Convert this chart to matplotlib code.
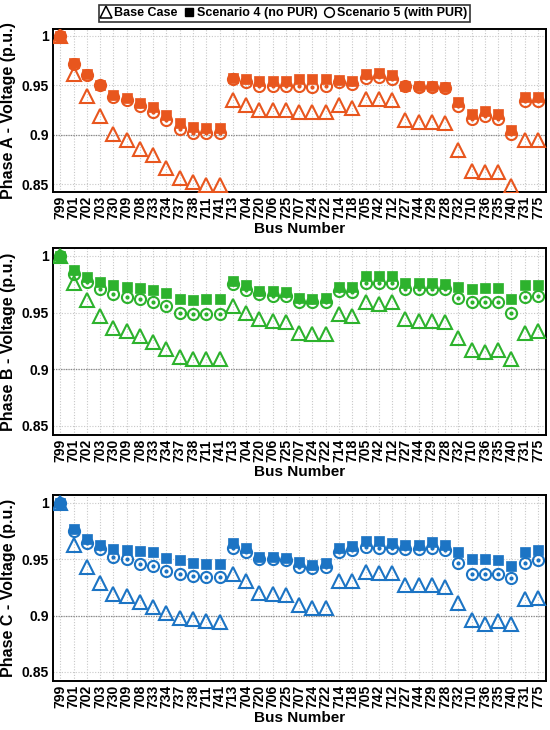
import matplotlib
matplotlib.use("Agg")
import matplotlib.pyplot as plt
from matplotlib.lines import Line2D
import numpy as np

plt.rcParams['font.family'] = ['Liberation Sans', 'DejaVu Sans']
plt.rcParams['font.weight'] = 'bold'

buses = ["799", "701", "702", "703", "730", "709", "708", "733", "734", "737", "738", "711", "741",
         "713", "704", "720", "706", "725", "707", "724", "722", "714", "718", "705", "742", "712",
         "727", "744", "729", "728", "732", "710", "736", "735", "740", "731", "775"]

# Phase A
base_a = [1.0, 0.961, 0.939, 0.919, 0.901, 0.895, 0.886, 0.879, 0.866, 0.856, 0.852, 0.849, 0.849,
          0.935, 0.930, 0.925, 0.925, 0.925, 0.923, 0.923, 0.923, 0.930, 0.927, 0.936, 0.936, 0.935,
          0.915, 0.913, 0.913, 0.912, 0.885, 0.863, 0.862, 0.862, 0.848, 0.895, 0.895]
s4_a = [1.0, 0.973, 0.961, 0.950, 0.940, 0.937, 0.932, 0.928, 0.920, 0.912, 0.908, 0.907, 0.907,
        0.957, 0.956, 0.954, 0.954, 0.954, 0.956, 0.956, 0.956, 0.955, 0.954, 0.961, 0.962, 0.960,
        0.949, 0.949, 0.949, 0.948, 0.933, 0.921, 0.924, 0.921, 0.905, 0.938, 0.938]
s5_a = [1.0, 0.972, 0.960, 0.950, 0.938, 0.935, 0.929, 0.923, 0.915, 0.906, 0.902, 0.902, 0.902,
        0.956, 0.953, 0.949, 0.949, 0.949, 0.949, 0.948, 0.949, 0.953, 0.951, 0.957, 0.958, 0.956,
        0.949, 0.948, 0.948, 0.947, 0.929, 0.916, 0.919, 0.916, 0.901, 0.934, 0.934]

# Phase B
base_b = [1.0, 0.976, 0.961, 0.947, 0.936, 0.934, 0.929, 0.924, 0.918, 0.911, 0.909, 0.909, 0.909,
          0.956, 0.950, 0.944, 0.943, 0.942, 0.932, 0.931, 0.931, 0.949, 0.947, 0.959, 0.958, 0.959,
          0.944, 0.943, 0.943, 0.942, 0.928, 0.917, 0.915, 0.917, 0.909, 0.932, 0.934]
s4_b = [1.0, 0.988, 0.981, 0.977, 0.974, 0.973, 0.972, 0.970, 0.967, 0.962, 0.961, 0.962, 0.962,
        0.978, 0.974, 0.969, 0.969, 0.968, 0.963, 0.962, 0.963, 0.973, 0.973, 0.982, 0.982, 0.982,
        0.976, 0.976, 0.976, 0.975, 0.973, 0.971, 0.972, 0.972, 0.962, 0.974, 0.974]
s5_b = [1.0, 0.984, 0.977, 0.971, 0.966, 0.964, 0.962, 0.959, 0.956, 0.950, 0.949, 0.949, 0.949,
        0.975, 0.970, 0.966, 0.965, 0.965, 0.959, 0.959, 0.959, 0.969, 0.968, 0.976, 0.976, 0.976,
        0.971, 0.971, 0.971, 0.971, 0.963, 0.959, 0.959, 0.959, 0.950, 0.964, 0.965]

# Phase C
base_c = [1.0, 0.963, 0.943, 0.929, 0.919, 0.917, 0.912, 0.908, 0.902, 0.898, 0.897, 0.895, 0.894,
          0.937, 0.931, 0.920, 0.919, 0.918, 0.909, 0.907, 0.907, 0.931, 0.931, 0.939, 0.938, 0.938,
          0.927, 0.927, 0.927, 0.925, 0.911, 0.896, 0.893, 0.895, 0.893, 0.915, 0.916]
s4_c = [1.0, 0.977, 0.968, 0.963, 0.959, 0.958, 0.957, 0.956, 0.951, 0.949, 0.947, 0.946, 0.946,
        0.964, 0.960, 0.952, 0.952, 0.951, 0.948, 0.945, 0.947, 0.960, 0.962, 0.966, 0.966, 0.964,
        0.963, 0.963, 0.965, 0.963, 0.956, 0.950, 0.950, 0.949, 0.944, 0.956, 0.958]
s5_c = [1.0, 0.975, 0.964, 0.959, 0.952, 0.950, 0.946, 0.944, 0.940, 0.937, 0.935, 0.934, 0.934,
        0.960, 0.956, 0.950, 0.950, 0.949, 0.943, 0.942, 0.943, 0.956, 0.958, 0.961, 0.960, 0.960,
        0.959, 0.959, 0.960, 0.958, 0.947, 0.937, 0.937, 0.937, 0.933, 0.947, 0.949]

phases = ["Phase A", "Phase B", "Phase C"]
colors = ["#E8561E", "#2DB22D", "#1C74C4"]
series = [(base_a, s4_a, s5_a), (base_b, s4_b, s5_b), (base_c, s4_c, s5_c)]
yticks = [0.85, 0.9, 0.95, 1.0]
ytick_labels = ["0.85", "0.9", "0.95", "1"]

fig = plt.figure(figsize=(5.5, 7.3), dpi=100)
W, H = 550.0, 730.0
boxes = [(29, 192), (248, 435), (495, 681)]
left_px, right_px = 53, 546

x = np.arange(len(buses))
for i, (ph, col, (b, s4, s5)) in enumerate(zip(phases, colors, series)):
    top, bot = boxes[i]
    ax = fig.add_axes([left_px / W, 1 - bot / H, (right_px - left_px) / W, (bot - top) / H])
    ax.set_xlim(-0.55, 36.6)
    ax.set_ylim(0.842, 1.007)
    ax.set_yticks(yticks)
    ax.set_yticklabels(ytick_labels)
    ax.set_xticks(x)
    ax.set_xticklabels(buses, rotation=90)
    for t in ax.get_xticklabels() + ax.get_yticklabels():
        t.set_fontweight('bold')
        t.set_fontsize(10)
    ax.tick_params(axis='both', length=0, pad=3)
    ax.grid(True, which='major', linestyle=(0, (1, 1.5)), color='#c8c8c8', linewidth=0.8)
    ax.axhline(0.9, color='#888888', linestyle=(0, (1, 1)), linewidth=0.9, zorder=1)
    ax.set_axisbelow(True)
    for s in ax.spines.values():
        s.set_linewidth(1.4)
        s.set_color('black')
    ax.plot(x, b, linestyle='none', marker='^', markersize=9.5, markerfacecolor='none',
            markeredgecolor=col, markeredgewidth=1.5, zorder=3)
    ax.plot(x, s5, linestyle='none', marker='o', markersize=8, markerfacecolor='none',
            markeredgecolor=col, markeredgewidth=1.5, zorder=3)
    ax.plot(x, s5, linestyle='none', marker='o', markersize=3, markerfacecolor=col,
            markeredgecolor=col, markeredgewidth=0, zorder=3)
    ax.plot(x, s4, linestyle='none', marker='s', markersize=6.5, markerfacecolor=col,
            markeredgecolor=col, markeredgewidth=0.5, zorder=4)
    ax.set_xlabel("Bus Number", fontsize=11, fontweight='bold', labelpad=2)
    ax.set_ylabel(f"{ph} - Voltage (p.u.)", fontsize=11.5, fontweight='bold', labelpad=4)

handles = [
    Line2D([], [], linestyle='none', marker='^', markersize=8, markerfacecolor='none',
           markeredgecolor='black', markeredgewidth=1.1, label='Base Case'),
    Line2D([], [], linestyle='none', marker='s', markersize=6, markerfacecolor='black',
           markeredgecolor='black', label='Scenario 4 (no PUR)'),
    Line2D([], [], linestyle='none', marker='o', markersize=7, markerfacecolor='none',
           markeredgecolor='black', markeredgewidth=1.1, label='Scenario 5 (with PUR)'),
]
leg = fig.legend(handles=handles, loc='upper center', bbox_to_anchor=(0.517, 0.997), ncol=3,
                 frameon=True, fancybox=False, edgecolor='black', handlelength=0.8,
                 handletextpad=0.25, columnspacing=0.5, borderpad=0.2, borderaxespad=0.2,
                 prop={'weight': 'bold', 'size': 9})
leg.get_frame().set_linewidth(1.2)

fig.savefig("out.png", dpi=100)
